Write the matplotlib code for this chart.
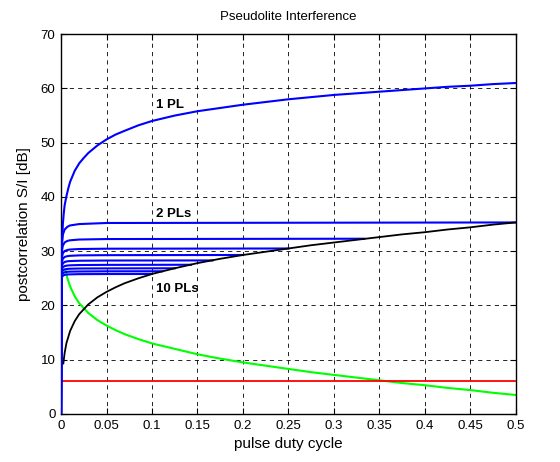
import matplotlib
matplotlib.use("Agg")
import matplotlib.pyplot as plt

plt.rcParams["font.family"] = ["Liberation Sans", "DejaVu Sans"]

# 1 pseudolite curve
x_1pl = [0, 0.0005, 0.001, 0.002, 0.003, 0.004, 0.006, 0.008, 0.01, 0.015,
         0.02, 0.025, 0.03, 0.04, 0.05, 0.06, 0.07, 0.085, 0.1, 0.125, 0.15,
         0.175, 0.2, 0.225, 0.25, 0.275, 0.3, 0.325, 0.35, 0.375, 0.4,
         0.425, 0.45, 0.475, 0.5]
y_1pl = [0, 27.0, 31.0, 35.0, 37.0, 38.5, 40.2, 41.6, 42.8, 44.8,
         46.2, 47.2, 48.1, 49.5, 50.6, 51.5, 52.2, 53.2, 54.0, 55.0, 55.8,
         56.4, 57.0, 57.5, 58.0, 58.4, 58.8, 59.1, 59.4, 59.7, 60.0,
         60.3, 60.5, 60.8, 61.0]

# 2..10 pseudolites, each line ends at duty cycle 1/N
x_start = [0, 0.0005, 0.001, 0.002, 0.004, 0.007, 0.01, 0.02, 0.05]
x_end = [0.5, 0.3333, 0.25, 0.2, 0.1667, 0.1429, 0.125, 0.1111, 0.1]
y_npl = [
    [0, 29.6, 31.6, 33.05, 34.0, 34.5, 34.75, 35.0, 35.2, 35.3],
    [0, 28.57, 30.05, 31.03, 31.62, 31.9, 32.01, 32.15, 32.24, 32.3],
    [0, 27.72, 28.89, 29.62, 30.04, 30.23, 30.31, 30.4, 30.46, 30.5],
    [0, 27.04, 28.03, 28.62, 28.94, 29.09, 29.15, 29.23, 29.27, 29.3],
    [0, 26.42, 27.26, 27.75, 28.02, 28.14, 28.18, 28.24, 28.28, 28.3],
    [0, 25.89, 26.62, 27.04, 27.26, 27.36, 27.4, 27.45, 27.48, 27.5],
    [0, 25.43, 26.08, 26.45, 26.65, 26.73, 26.77, 26.81, 26.83, 26.85],
    [0, 25.03, 25.62, 25.94, 26.12, 26.2, 26.23, 26.26, 26.29, 26.3],
    [0, 24.65, 25.19, 25.48, 25.64, 25.71, 25.73, 25.77, 25.79, 25.8],
]

# envelope through line ends (black)
x_env = [0.0025, 0.004, 0.006, 0.01, 0.015, 0.02, 0.03, 0.04, 0.05, 0.06,
         0.07, 0.085, 0.1, 0.125, 0.15, 0.175, 0.2, 0.225, 0.25, 0.275,
         0.3, 0.325, 0.35, 0.375, 0.4, 0.425, 0.45, 0.475, 0.5]
y_env = [9.3, 11.3, 13.1, 15.3, 17.1, 18.4, 20.2, 21.5, 22.5, 23.35,
         24.1, 25.0, 25.8, 26.85, 27.8, 28.6, 29.3, 29.9, 30.5, 31.1,
         31.6, 32.1, 32.6, 33.1, 33.5, 34.0, 34.4, 34.9, 35.3]

# green curve
x_green = [0.005, 0.007, 0.01, 0.015, 0.02, 0.03, 0.04, 0.05, 0.06, 0.07,
           0.085, 0.1, 0.125, 0.15, 0.175, 0.2, 0.225, 0.25, 0.275, 0.3,
           0.325, 0.35, 0.375, 0.4, 0.425, 0.45, 0.475, 0.5]
y_green = [26.5, 25.0, 23.5, 21.7, 20.4, 18.6, 17.3, 16.3, 15.45, 14.7,
           13.8, 13.0, 12.0, 11.0, 10.2, 9.5, 8.9, 8.3, 7.7, 7.2,
           6.7, 6.2, 5.7, 5.3, 4.8, 4.4, 3.9, 3.5]

# threshold (red)
x_thr = [0, 0.5]
y_thr = [6, 6]

xticks = [0, 0.05, 0.1, 0.15, 0.2, 0.25, 0.3, 0.35, 0.4, 0.45, 0.5]
xtick_labels = ["0", "0.05", "0.1", "0.15", "0.2", "0.25", "0.3", "0.35", "0.4", "0.45", "0.5"]
yticks = [0, 10, 20, 30, 40, 50, 60, 70]


def main():
    fig = plt.figure(figsize=(5.6, 4.62), dpi=100)
    ax = fig.add_axes([0.109, 0.104, 0.812, 0.822])

    ax.plot(x_green, y_green, color=(0, 1, 0), lw=1.5, zorder=2)
    ax.plot(x_thr, y_thr, color=(1, 0, 0), lw=1.3, zorder=3)
    ax.plot(x_1pl, y_1pl, color=(0, 0, 1), lw=1.5, zorder=4)
    for xe, ys in zip(x_end, y_npl):
        ax.plot(x_start + [xe], ys, color=(0, 0, 1), lw=1.5, zorder=4)
    ax.plot(x_env, y_env, color="black", lw=1.3, zorder=5)

    # curve labels
    ax.text(0.104, 57.0, "1 PL", fontsize=9.5, fontweight="bold", va="center")
    ax.text(0.104, 36.8, "2 PLs", fontsize=9.5, fontweight="bold", va="center")
    ax.text(0.104, 23.0, "10 PLs", fontsize=9.5, fontweight="bold", va="center")

    ax.set_xlim(0, 0.5)
    ax.set_ylim(0, 70)
    ax.set_xticks(xticks)
    ax.set_xticklabels(xtick_labels)
    ax.set_yticks(yticks)
    ax.tick_params(direction="in", top=True, right=True, labelsize=9.5,
                   length=4, width=0.8, pad=4)
    ax.grid(True, color="black", linestyle=(0, (5, 5)), linewidth=0.6)
    for s in ax.spines.values():
        s.set_linewidth(1.0)

    ax.set_title("Pseudolite Interference", fontsize=9.5, pad=10)
    ax.set_xlabel("pulse duty cycle", fontsize=11, labelpad=4)
    ax.set_ylabel("postcorrelation S/I [dB]", fontsize=11, labelpad=7)

    fig.savefig("out.png", dpi=100)


if __name__ == "__main__":
    main()
